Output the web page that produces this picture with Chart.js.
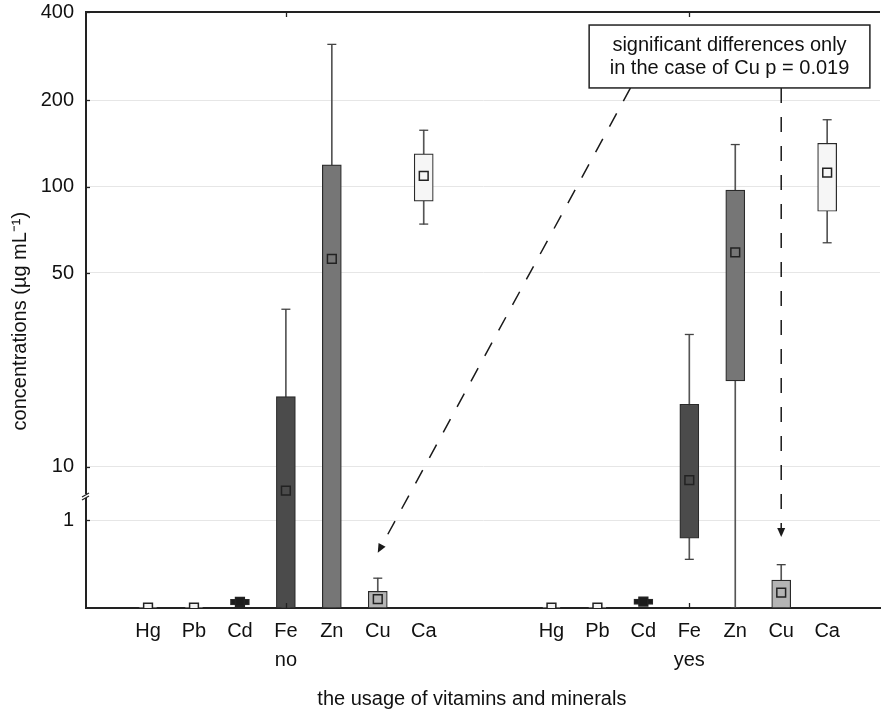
<!DOCTYPE html>
<html><head><meta charset="utf-8">
<script src="https://cdn.jsdelivr.net/npm/chart.js@4.4.0/dist/chart.umd.min.js"></script>
<style>html,body{margin:0;padding:0;background:#fff}#wrap{width:882px;height:713px}</style>
</head><body><div id="wrap"><canvas id="c" width="882" height="713"></canvas></div>
<script>
// ---------------- data ----------------
const categories = ['Hg', 'Pb', 'Cd', 'Fe', 'Zn', 'Cu', 'Ca'];
const groups = ['no', 'yes'];

const noMean        = [0.003, 0.003, 0.07, 8.2, 56, 0.10, 109];
const noBoxLow      = [0, 0, 0.035, 0, 0, 0, 89];
const noBoxHigh     = [0.005, 0.005, 0.10, 17.9, 119, 0.19, 130];
const noWhiskerLow  = [0, 0, 0.02, 0, 0, 0, 74];
const noWhiskerHigh = [0.006, 0.02, 0.11, 37, 310, 0.34, 157];

const yesMean        = [0.003, 0.003, 0.074, 8.95, 59, 0.174, 111.7];
const yesBoxLow      = [0, 0, 0.042, 0.795, 20.4, 0, 82];
const yesBoxHigh     = [0.005, 0.005, 0.103, 16.8, 97.2, 0.319, 141.4];
const yesWhiskerLow  = [0, 0, 0.03, 0.555, 0, 0, 63.7];
const yesWhiskerHigh = [0.006, 0.006, 0.11, 30, 140, 0.494, 170.8];

const yTickValues = [1, 10, 50, 100, 200, 400];
const yTickLabels = ['1', '10', '50', '100', '200', '400'];

const noteLines = ['significant differences only', 'in the case of Cu p = 0.019'];
const noteTarget = 'Cu';
const noteArrowValues = [0.63, 0.81];   // where arrows end on the Cu columns

// ---------------- styles ----------------
const categoryFill = ['#f3f3f3', '#f3f3f3', '#1c1c1c', '#4b4b4b', '#767676', '#b4b4b4', '#f6f6f6'];
const FONT = "'Liberation Sans', Arial, sans-serif";

// ---------------- broken axis (linear 0..1, then log-like 10..400) ----------------
const LOWER_MAX = 1.277;
const knotValues = [10, 50, 100, 200, 400];
const knotUnits  = [1.611, 3.820, 4.806, 5.792, 6.796];
function toAxis(v) {
  if (v <= LOWER_MAX) return v;
  const lv = Math.log10(v);
  const lk = knotValues.map(Math.log10);
  let i = 0;
  while (i < lk.length - 2 && lv > lk[i + 1]) i++;
  const t = (lv - lk[i]) / (lk[i + 1] - lk[i]);
  const u = knotUnits[i] + t * (knotUnits[i + 1] - knotUnits[i]);
  return Math.max(u, LOWER_MAX);
}

// x layout (linear x axis): category index plus group offset
const GROUP_GAP = 8.78;
const X_MIN = -1.35, X_MAX = 15.93;
const pos = (gi, ci) => ci + gi * GROUP_GAP;

const series = [
  {mean: noMean, boxLow: noBoxLow, boxHigh: noBoxHigh, wLow: noWhiskerLow, wHigh: noWhiskerHigh},
  {mean: yesMean, boxLow: yesBoxLow, boxHigh: yesBoxHigh, wLow: yesWhiskerLow, wHigh: yesWhiskerHigh}
];

const boxData = [], whiskerData = [], capData = [], meanData = [], fills = [];
const xTickPos = [], xTickLabels = [];
series.forEach((s, gi) => {
  categories.forEach((c, ci) => {
    const x = pos(gi, ci);
    boxData.push({x, y: [toAxis(s.boxLow[ci]), toAxis(s.boxHigh[ci])]});
    whiskerData.push({x, y: [toAxis(s.wLow[ci]), toAxis(s.wHigh[ci])]});
    capData.push({x, y: toAxis(s.wLow[ci])}, {x, y: toAxis(s.wHigh[ci])});
    meanData.push({x, y: toAxis(s.mean[ci])});
    fills.push(categoryFill[ci]);
    xTickPos.push(x);
    xTickLabels.push(ci === 3 ? [c, groups[gi]] : c);
  });
});

// ---------------- plugins ----------------
function seg(ctx, x1, y1, x2, y2) { ctx.beginPath(); ctx.moveTo(x1, y1); ctx.lineTo(x2, y2); ctx.stroke(); }

const decorPlugin = {
  id: 'decor',
  afterDraw(chart) {
    const {ctx, chartArea: a, scales: {x, y}} = chart;
    ctx.save();
    ctx.strokeStyle = '#222';
    ctx.lineWidth = 2;
    seg(ctx, a.left - 1, a.top, a.right, a.top);
    ctx.lineWidth = 1.3;
    yTickValues.forEach(v => { const py = Math.round(y.getPixelForValue(toAxis(v))) + 0.5; seg(ctx, a.left, py, a.left + 4, py); });
    groups.forEach((g, gi) => {
      const px = Math.round(x.getPixelForValue(pos(gi, 3))) + 0.5;
      seg(ctx, px, a.top, px, a.top + 5);
      seg(ctx, px, a.bottom, px, a.bottom - 5);
    });
    // axis break marker
    const by = y.getPixelForValue(LOWER_MAX);
    ctx.fillStyle = '#fff';
    ctx.fillRect(a.left - 2, by - 2, 4, 4);
    ctx.lineWidth = 1.3;
    seg(ctx, a.left - 4, by + 1, a.left + 3, by - 3);
    seg(ctx, a.left - 4, by + 4, a.left + 3, by);
    ctx.restore();
  }
};

const notePlugin = {
  id: 'note',
  afterDraw(chart) {
    const {ctx, scales: {x, y}} = chart;
    const ci = categories.indexOf(noteTarget);
    const left = x.getPixelForValue(9.60), right = x.getPixelForValue(15.71);
    const top = y.getPixelForValue(toAxis(361)), bottom = y.getPixelForValue(toAxis(220));
    const starts = [x.getPixelForValue(10.50), x.getPixelForValue(pos(1, ci))];
    ctx.save();
    ctx.strokeStyle = '#1a1a1a'; ctx.fillStyle = '#1a1a1a'; ctx.lineWidth = 1.5;
    groups.forEach((g, gi) => {
      const tx = x.getPixelForValue(pos(gi, ci));
      const ty = y.getPixelForValue(toAxis(noteArrowValues[gi]));
      const sx = starts[gi], sy = bottom;
      const ang = Math.atan2(ty - sy, tx - sx);
      const L = 9, W = 4;
      const bx = tx - L * Math.cos(ang), byy = ty - L * Math.sin(ang);
      ctx.setLineDash([15, 14]);
      seg(ctx, sx, sy, bx, byy);
      ctx.setLineDash([]);
      ctx.beginPath();
      ctx.moveTo(tx, ty);
      ctx.lineTo(bx + W * Math.sin(ang), byy - W * Math.cos(ang));
      ctx.lineTo(bx - W * Math.sin(ang), byy + W * Math.cos(ang));
      ctx.closePath(); ctx.fill();
    });
    ctx.fillStyle = '#fff';
    ctx.fillRect(left, top, right - left, bottom - top);
    ctx.lineWidth = 1.5; ctx.strokeStyle = '#222';
    ctx.strokeRect(left, top, right - left, bottom - top);
    ctx.fillStyle = '#111';
    ctx.font = '20px ' + FONT;
    ctx.textAlign = 'center'; ctx.textBaseline = 'middle';
    const cx = (left + right) / 2, cy = (top + bottom) / 2;
    ctx.fillText(noteLines[0], cx, cy - 11.5);
    ctx.fillText(noteLines[1], cx, cy + 11.5);
    ctx.restore();
  }
};

// ---------------- chart ----------------
new Chart(document.getElementById('c'), {
  type: 'bar',
  data: {
    datasets: [
      {type: 'bar', data: whiskerData, backgroundColor: '#555', borderWidth: 0, barThickness: 1, grouped: false, order: 3},
      {type: 'bar', data: boxData, backgroundColor: fills, borderColor: '#2a2a2a', borderWidth: 1.2, borderSkipped: false, barThickness: 19, grouped: false, order: 2},
      {type: 'scatter', data: capData, pointStyle: 'line', pointRadius: 4.5, pointBorderColor: '#444', pointBorderWidth: 1.3, clip: 0, order: 1},
      {type: 'scatter', data: meanData, pointStyle: 'rect', pointRadius: 6.2, pointBackgroundColor: fills, pointBorderColor: '#222', pointBorderWidth: 1.5, clip: 0, order: 0}
    ]
  },
  options: {
    responsive: false,
    animation: false,
    events: [],
    layout: {autoPadding: false, padding: {left: 0, right: 2, top: 12, bottom: 0}},
    plugins: {legend: {display: false}, tooltip: {enabled: false}},
    scales: {
      x: {
        type: 'linear', min: X_MIN, max: X_MAX, offset: false,
        grid: {display: false, drawTicks: false},
        border: {display: true, color: '#222', width: 2},
        afterBuildTicks: s => { s.ticks = xTickPos.map(v => ({value: v})); },
        afterFit: s => { s.height = 105; s.paddingLeft = 0; s.paddingRight = 0; },
        ticks: {
          autoSkip: false, maxRotation: 0, padding: 9, color: '#111',
          font: {family: FONT, size: 20, lineHeight: 1.45},
          callback: (v, i) => xTickLabels[i]
        },
        title: {display: true, text: 'the usage of vitamins and minerals    ', color: '#111',
                font: {family: FONT, size: 20, lineHeight: 1.2}, padding: {top: 0, bottom: 2}}
      },
      y: {
        type: 'linear', min: 0, max: toAxis(400),
        grid: {color: '#e6e6e6', lineWidth: 1, drawTicks: false},
        border: {display: true, color: '#222', width: 2},
        afterBuildTicks: s => { s.ticks = yTickValues.map(v => ({value: toAxis(v)})); },
        afterFit: s => { s.width = 86; s.paddingTop = 0; s.paddingBottom = 0; },
        ticks: {
          autoSkip: false, padding: 12, color: '#111',
          font: {family: FONT, size: 20},
          callback: (v, i) => yTickLabels[i]
        },
        title: {display: true, text: 'concentrations (µg mL⁻¹)    ', color: '#111',
                font: {family: FONT, size: 20, lineHeight: 1.2}, padding: {top: 8, bottom: 0}}
      }
    }
  },
  plugins: [decorPlugin, notePlugin]
});
</script></body></html>
